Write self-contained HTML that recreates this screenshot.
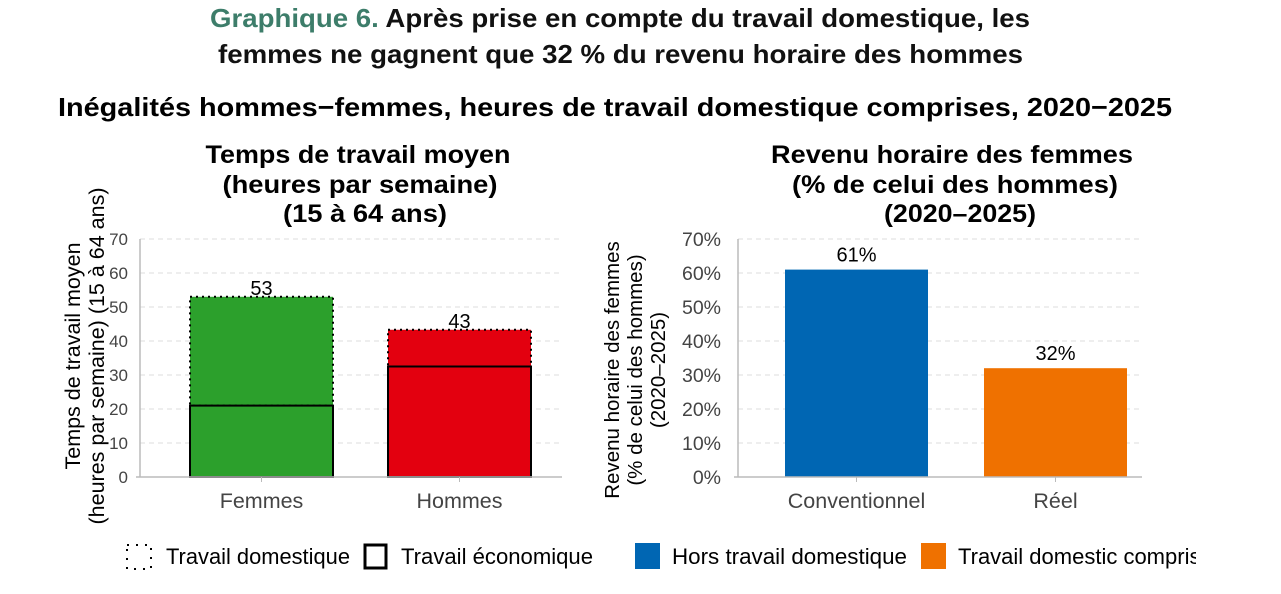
<!DOCTYPE html>
<html><head><meta charset="utf-8"><style>
body{margin:0;background:#fff;width:1281px;height:589px;overflow:hidden}
svg{font-family:"Liberation Sans",sans-serif}
</style></head><body>
<svg width="1281" height="589">
<text x="210" y="27" font-size="26" font-weight="bold" fill="#111" textLength="820" lengthAdjust="spacingAndGlyphs"><tspan fill="#3d7d6a">Graphique 6.</tspan> Après prise en compte du travail domestique, les</text>
<text x="218" y="63" font-size="26" font-weight="bold" fill="#111" textLength="805" lengthAdjust="spacingAndGlyphs">femmes ne gagnent que 32 % du revenu horaire des hommes</text>
<text x="58" y="116" font-size="26" font-weight="bold" fill="#000" textLength="1114" lengthAdjust="spacingAndGlyphs">Inégalités hommes−femmes, heures de travail domestique comprises, 2020−2025</text>
<g font-size="25" font-weight="bold" text-anchor="middle">
<text x="358" y="163" textLength="305" lengthAdjust="spacingAndGlyphs">Temps de travail moyen</text><text x="360" y="193" textLength="275" lengthAdjust="spacingAndGlyphs">(heures par semaine)</text><text x="365" y="222" textLength="164" lengthAdjust="spacingAndGlyphs">(15 à 64 ans)</text></g>
<g font-size="25" font-weight="bold" text-anchor="middle">
<text x="952" y="163" textLength="362" lengthAdjust="spacingAndGlyphs">Revenu horaire des femmes</text><text x="955" y="193" textLength="326" lengthAdjust="spacingAndGlyphs">(% de celui des hommes)</text><text x="960" y="222" textLength="152" lengthAdjust="spacingAndGlyphs">(2020–2025)</text></g>
<g font-size="21.5" text-anchor="middle" fill="#000">
<text transform="translate(80,356) rotate(-90)">Temps de travail moyen</text>
<text transform="translate(104,356) rotate(-90)">(heures par semaine) (15 à 64 ans)</text></g>
<g font-size="20.5" text-anchor="middle" fill="#000">
<text transform="translate(619,370) rotate(-90)">Revenu horaire des femmes</text>
<text transform="translate(642,370) rotate(-90)">(% de celui des hommes)</text>
<text transform="translate(665,370) rotate(-90)">(2020–2025)</text></g>
<g id="left"></g><g id="right"></g>
<g font-size="22">
<rect x="127" y="545" width="24" height="24" fill="none" stroke="#000" stroke-width="2" stroke-dasharray="2,7"/>
<text x="166" y="564" textLength="184" lengthAdjust="spacingAndGlyphs">Travail domestique</text>
<rect x="365" y="545" width="21" height="23" fill="none" stroke="#000" stroke-width="3"/>
<text x="401" y="564" textLength="192" lengthAdjust="spacingAndGlyphs">Travail économique</text>
<rect x="635" y="543" width="25" height="26" fill="#0066b3"/>
<text x="672" y="564" textLength="235" lengthAdjust="spacingAndGlyphs">Hors travail domestique</text>
<rect x="921" y="543" width="25" height="26" fill="#ef7100"/>
<text x="958" y="564">Travail domestic compris</text>
<rect x="1196" y="535" width="86" height="40" fill="#fff"/>
</g>
</svg>
<script>
const leftCats=["Femmes","Hommes"];
const econValues=[21,32.5];
const totalValues=[53,43.3];
const leftTicks=[0,10,20,30,40,50,60,70];
const rightCats=["Conventionnel","Réel"];
const rightValues=[61,32];
const rightTicks=[0,10,20,30,40,50,60,70];
const NS="http://www.w3.org/2000/svg";
function mk(p,t,a){const e=document.createElementNS(NS,t);for(const k in a)e.setAttribute(k,a[k]);p.appendChild(e);return e;}
const y0=477,y70=239;
function yS(v){return y0-(v/70)*(y0-y70);}
// left
const L=document.getElementById('left');


leftTicks.forEach(t=>{
 if(t>0){const g=mk(L,'line',{x1:140,x2:562,y1:yS(t),y2:yS(t),stroke:'#ddd','stroke-dasharray':'5,4'});
 
 }
 const tx=mk(L,'text',{x:128,y:yS(t)+6,'text-anchor':'end','font-size':17,fill:'#444'});tx.textContent=t;
 
 
});
const lx=[190,388],bw=143,colors=['#2ca02c','#e3000f'];
leftCats.forEach((c,i)=>{
 const top=mk(L,'rect',{x:lx[i],y:yS(totalValues[i]),width:bw,height:yS(econValues[i])-yS(totalValues[i]),fill:colors[i],stroke:'#000','stroke-width':2,'stroke-dasharray':'2,4'});
 
 
 const b=mk(L,'rect',{x:lx[i],y:yS(econValues[i]),width:bw,height:y0-yS(econValues[i]),fill:colors[i],stroke:'#000','stroke-width':2});
 
 
 const v=mk(L,'text',{x:lx[i]+bw/2,y:yS(totalValues[i])-2,'text-anchor':'middle','font-size':20});v.textContent=Math.round(totalValues[i]);
 
 
 mk(L,'line',{x1:lx[i]+bw/2,x2:lx[i]+bw/2,y1:y0,y2:y0+5,stroke:'#bbb'});
 const cl=mk(L,'text',{x:lx[i]+bw/2,y:y0+31,'text-anchor':'middle','font-size':21.5,fill:'#444'});cl.textContent=c;
 
 
});
mk(L,'line',{x1:140,x2:140,y1:239,y2:y0,stroke:'#bbb','stroke-width':1.5});
mk(L,'line',{x1:136,x2:562,y1:y0,y2:y0,stroke:'#bbb','stroke-width':1.5});
// right
const R=document.getElementById('right');


rightTicks.forEach(t=>{
 if(t>0){const g=mk(R,'line',{x1:738,x2:1142,y1:yS(t),y2:yS(t),stroke:'#ddd','stroke-dasharray':'5,4'});
 
 }
 const tx=mk(R,'text',{x:721,y:yS(t)+7,'text-anchor':'end','font-size':19.5,fill:'#444'});tx.textContent=t+'%';
 
 
});
const rx=[785,984],rw=143,rc=['#0066b3','#ef7100'];
rightCats.forEach((c,i)=>{
 const b=mk(R,'rect',{x:rx[i],y:yS(rightValues[i]),width:rw,height:y0-yS(rightValues[i]),fill:rc[i]});
 
 
 const v=mk(R,'text',{x:rx[i]+rw/2,y:yS(rightValues[i])-8,'text-anchor':'middle','font-size':20});v.textContent=rightValues[i]+'%';
 
 
 mk(R,'line',{x1:rx[i]+rw/2,x2:rx[i]+rw/2,y1:y0,y2:y0+5,stroke:'#bbb'});
 const cl=mk(R,'text',{x:rx[i]+rw/2,y:y0+31,'text-anchor':'middle','font-size':21.5,fill:'#444'});cl.textContent=c;
 
 
});
mk(R,'line',{x1:738,x2:738,y1:239,y2:y0,stroke:'#bbb','stroke-width':1.5});
mk(R,'line',{x1:734,x2:1142,y1:y0,y2:y0,stroke:'#bbb','stroke-width':1.5});
</script>
</body></html>
